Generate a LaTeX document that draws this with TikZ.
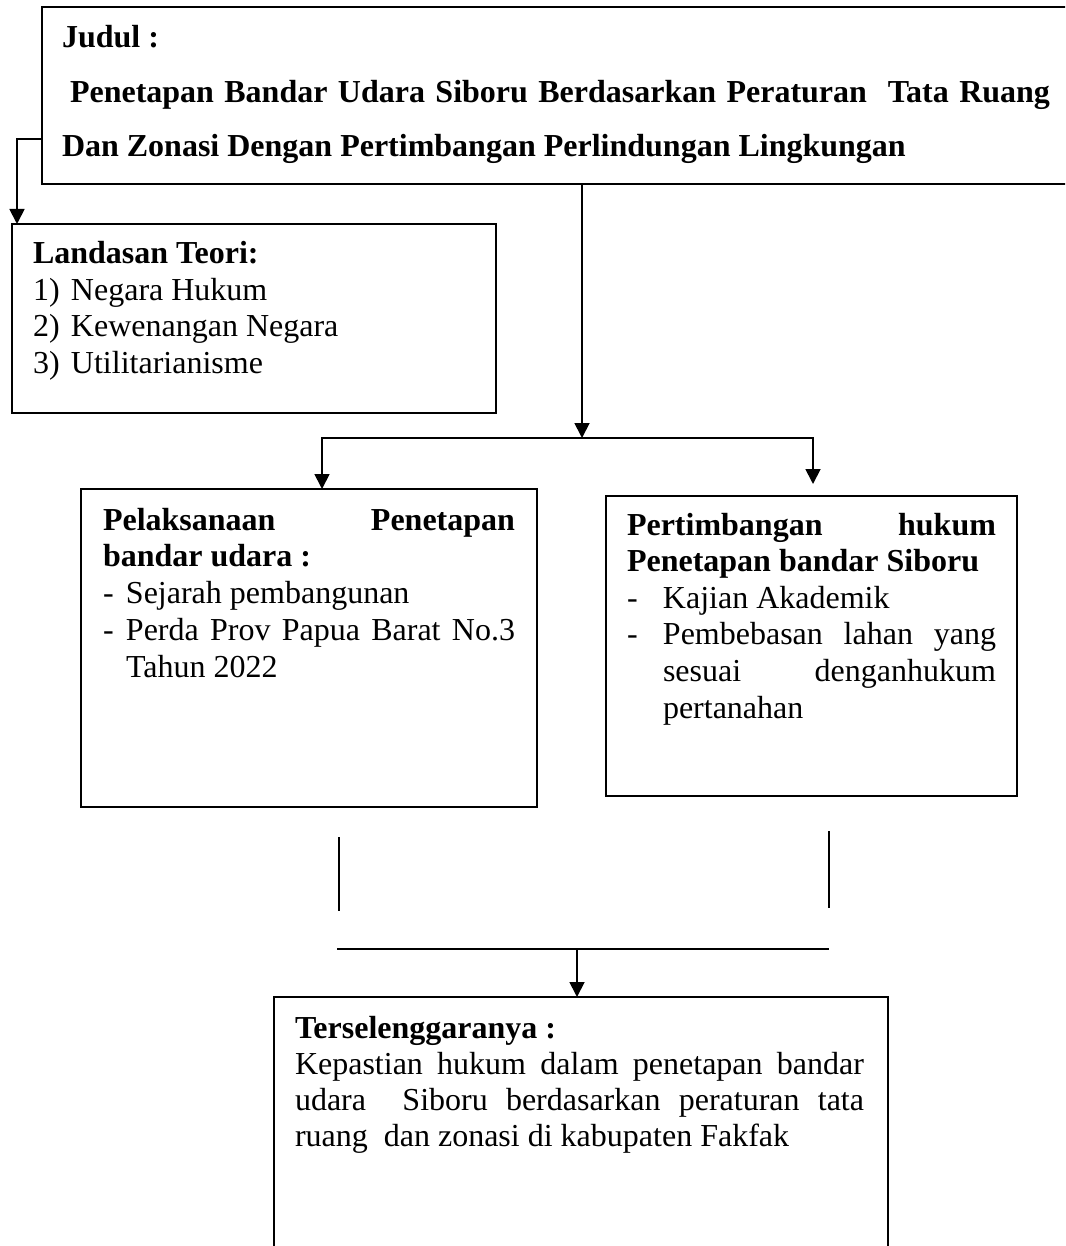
\documentclass[tikz,border=0pt]{standalone}
\usepackage{fontspec}
\setmainfont{Liberation Serif}
\usetikzlibrary{arrows.meta}
\begin{document}
\begin{tikzpicture}[x=1pt,y=-1pt,
  box/.style={draw,line width=1.8pt,rectangle,inner sep=0pt,outer sep=0pt,anchor=north west},
  txt/.style={inner sep=0pt,outer sep=0pt,anchor=base west},
  conn/.style={line width=1.8pt},
  arr/.style={conn,-{Triangle[width=15pt,length=15pt]}}]
\useasboundingbox (0,0) rectangle (1065,1246);
\clip (0,0) rectangle (1065,1246);

% boxes
\node[box,minimum width=1100pt,minimum height=177pt] (jdl) at (42,7) {};
\node[box,minimum width=484pt,minimum height=189pt] (lt) at (12,224) {};
\node[box,minimum width=456pt,minimum height=318pt] (lb) at (81,489) {};
\node[box,minimum width=411pt,minimum height=300pt] (rb) at (606,496) {};
\node[box,minimum width=614pt,minimum height=300pt] (bt) at (274,997) {};

% texts
\node[txt] (jdltxt) at (62,48) {\parbox[t]{1000pt}{\fontsize{32}{54.5}\selectfont\bfseries
Judul :\\
\makebox[988pt][s]{\hspace{8pt}Penetapan Bandar Udara Siboru Berdasarkan Peraturan\ \ Tata Ruang}\\
Dan Zonasi Dengan Pertimbangan Perlindungan Lingkungan}};

\node[txt] (lttxt) at (33,264) {\parbox[t]{450pt}{\fontsize{32}{36.4}\selectfont
\textbf{Landasan Teori:}\\
\makebox[38pt][l]{1)}Negara Hukum\\
\makebox[38pt][l]{2)}Kewenangan Negara\\
\makebox[38pt][l]{3)}Utilitarianisme}};

\node[txt] (lbtxt) at (103,530) {\parbox[t]{412pt}{\fontsize{32}{36.75}\selectfont
\textbf{\makebox[412pt][s]{Pelaksanaan Penetapan}}\\
\textbf{bandar udara :}\\
\makebox[23pt][l]{-}Sejarah pembangunan\\
\makebox[23pt][l]{-}\makebox[389pt][s]{Perda Prov Papua Barat No.3}\\
\hspace*{23pt}Tahun 2022}};

\node[txt] (rbtxt) at (627,535) {\parbox[t]{369pt}{\fontsize{32}{36.6}\selectfont
\textbf{\makebox[369pt][s]{Pertimbangan hukum}}\\
\textbf{Penetapan bandar Siboru}\\
\makebox[36pt][l]{-}Kajian Akademik\\
\makebox[36pt][l]{-}\makebox[333pt][s]{Pembebasan lahan yang}\\
\hspace*{36pt}\makebox[333pt][s]{sesuai denganhukum}\\
\hspace*{36pt}pertanahan}};

\node[txt] (bttxt) at (295,1038) {\parbox[t]{569pt}{\fontsize{32}{36.3}\selectfont
\textbf{Terselenggaranya :}\\
\makebox[569pt][s]{Kepastian hukum dalam penetapan bandar}\\
\makebox[569pt][s]{udara\ \ Siboru berdasarkan peraturan tata}\\
ruang\ \ dan zonasi di kabupaten Fakfak}};

% connectors
\coordinate (c1) at (17,139);
\draw[arr] (jdl.west |- c1) -| (c1 |- lt.north);

\coordinate (sp) at (582,438);
\draw[arr] (sp |- jdl.south) -- (sp);
\coordinate (hl) at (322,438);
\coordinate (hr) at (813,438);
\draw[arr] (hr) -- (hl) -- (hl |- lb.north);
\draw[arr] (hl) -- (hr) -- ([yshift=12pt]hr |- rb.north);

\coordinate (v1a) at (339,837);
\coordinate (v1b) at (339,911);
\coordinate (v2a) at (829,831);
\coordinate (v2b) at (829,908);
\draw[conn] (v1a) -- (v1b);
\draw[conn] (v2a) -- (v2b);
\coordinate (bl) at (337,949);
\coordinate (br) at (829,949);
\coordinate (bm) at (577,949);
\draw[conn] (bl) -- (br);
\draw[arr] (bm) -- (bm |- bt.north);
\end{tikzpicture}
\end{document}
